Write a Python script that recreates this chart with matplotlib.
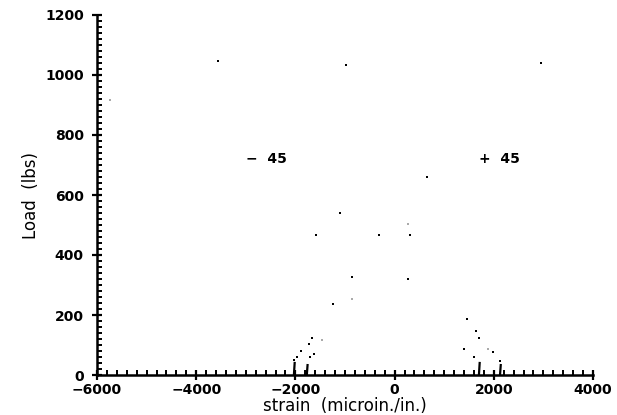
import matplotlib.pyplot as plt
import matplotlib
from matplotlib.ticker import MultipleLocator

matplotlib.rcParams['font.family'] = ['DejaVu Sans']

# scattered strain readings (microin./in.) and load (lbs)
strain_pts = [-3560, -980, 2950, 650, -1100, -1585, -315, 310, -860, 270,
              -1240, 1460, 1640, 1700, 1400, 1880, 1985, 1600, 2125,
              -1665, -1725, -1625, -1705, -1890, -1970, -2030]
load_pts = [1047, 1033, 1040, 660, 540, 467, 467, 467, 327, 320,
            237, 187, 147, 123, 87, 87, 77, 60, 47,
            123, 103, 70, 60, 80, 60, 50]
faint_strain = [-5740, 270, -860, -1460, 1880]
faint_load = [917, 503, 253, 117, 87]

# short vertical traces at the bottom of each gauge branch
trace_strain = [-2030, -1770, 1700, 2125]
trace_top = [40, 33, 40, 33]

gauge_labels = ["\u2212  45", "+  45"]
gauge_x = [-3000, 1700]
gauge_y = [720, 720]

xticks = [-6000, -4000, -2000, 0, 2000, 4000]
xticklabels = ["\u22126000", "\u22124000", "\u22122000", "0", "2000", "4000"]
yticks = [0, 200, 400, 600, 800, 1000, 1200]

fig = plt.figure(figsize=(6.17, 4.15), dpi=100)
ax = fig.add_axes([97 / 617, 40 / 415, 496 / 617, 360 / 415])

ax.scatter(strain_pts, load_pts, s=3, marker='s', color='black', linewidths=0)
ax.scatter(faint_strain, faint_load, s=2, marker='s', color='#aaaaaa', linewidths=0)
for xs, top in zip(trace_strain, trace_top):
    ax.plot([xs, xs + 15], [0, top], color='black', lw=1.6)

for lab, gx, gy in zip(gauge_labels, gauge_x, gauge_y):
    ax.text(gx, gy, lab, fontsize=10, fontweight='bold', va='center', ha='left')

ax.set_xlim(-6000, 4000)
ax.set_ylim(0, 1200)
ax.set_xticks(xticks)
ax.set_xticklabels(xticklabels)
ax.set_yticks(yticks)
ax.xaxis.set_minor_locator(MultipleLocator(200))
ax.yaxis.set_minor_locator(MultipleLocator(20))

for side in ['top', 'right']:
    ax.spines[side].set_visible(False)
for side in ['left', 'bottom']:
    ax.spines[side].set_linewidth(1.8)

ax.tick_params(which='major', direction='inout', length=7, width=1.6,
               labelsize=10)
ax.tick_params(axis='x', which='major', pad=2)
ax.tick_params(axis='y', which='major', pad=6)
ax.tick_params(which='minor', direction='in', length=3.5, width=1.4)
for lab in ax.get_xticklabels() + ax.get_yticklabels():
    lab.set_fontweight('bold')

ax.set_xlabel("strain  (microin./in.)", fontsize=12, labelpad=0)
ax.set_ylabel("Load  (lbs)", fontsize=12, labelpad=4)

plt.savefig("out.png", dpi=100)
